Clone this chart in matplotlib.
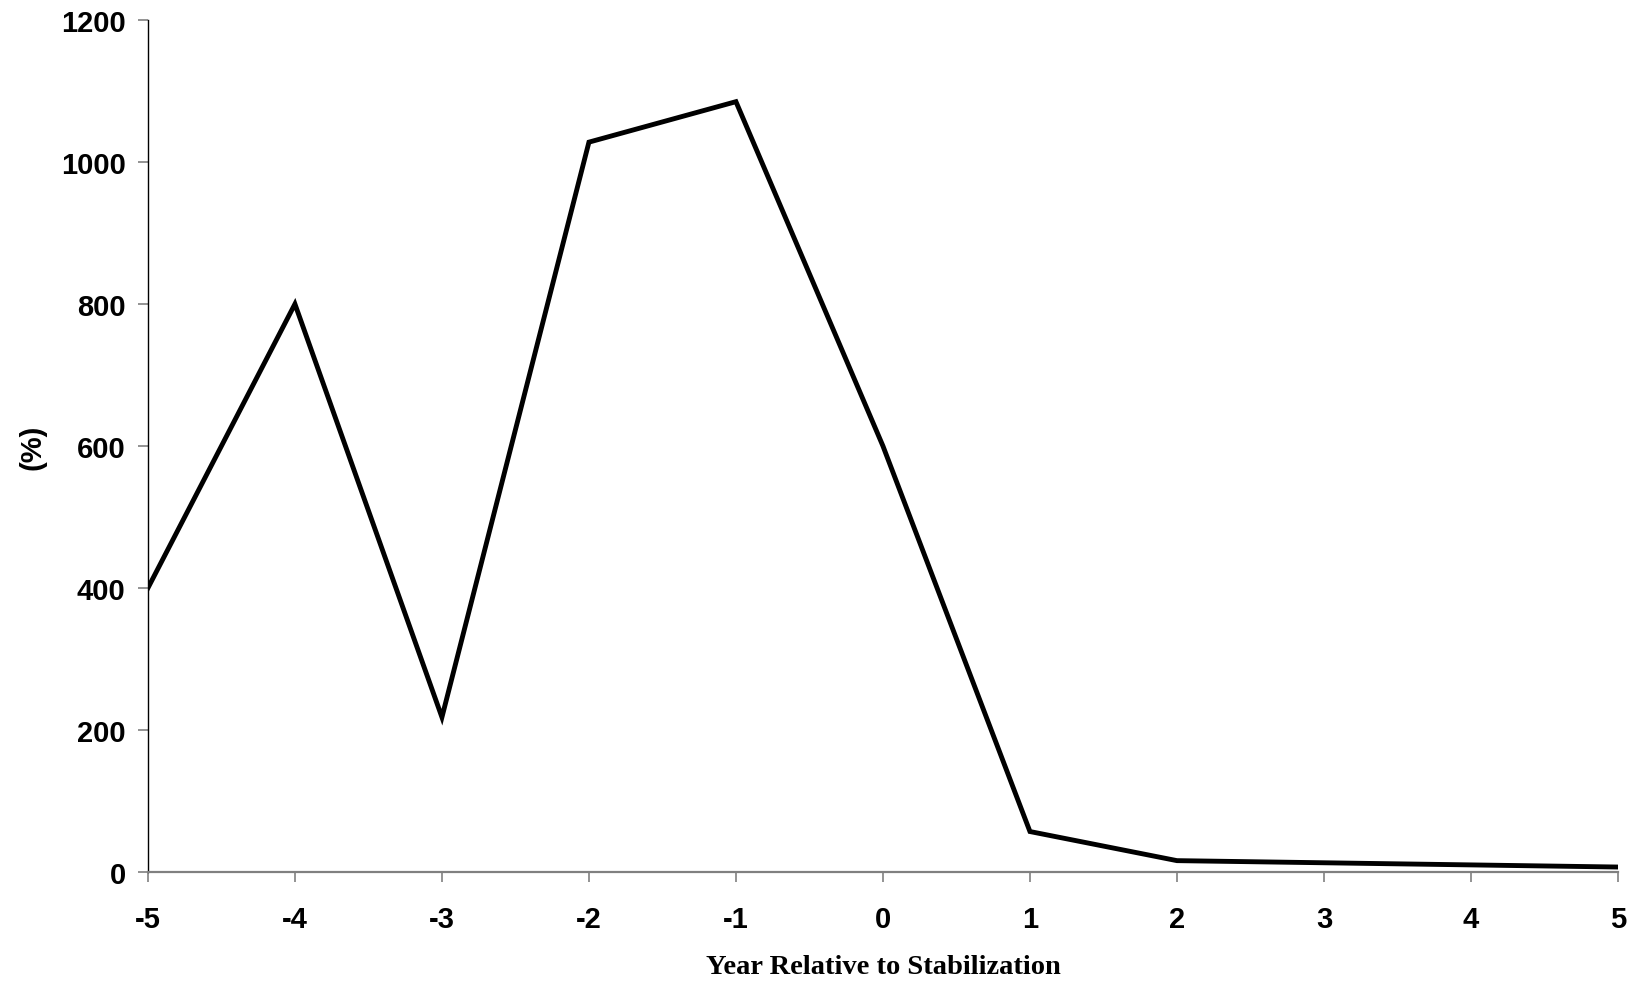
import matplotlib
matplotlib.use('Agg')
import matplotlib.pyplot as plt

# year relative to stabilization vs. percent
years = [-5, -4, -3, -2, -1, 0, 1, 2, 3, 4, 5]
pct = [400, 800, 218, 1028, 1085, 600, 57, 16, 13, 10, 7]
y_ticks = [0, 200, 400, 600, 800, 1000, 1200]


def main():
    plt.rcParams['axes.unicode_minus'] = False

    fig = plt.figure(figsize=(16.31, 9.87), dpi=100)
    ax = fig.add_axes([0.0907, 0.1155, 0.9013, 0.8632])

    ax.plot(years, pct, color='black', linewidth=3.5, solid_joinstyle='miter')

    ax.set_xlim(-5, 5)
    ax.set_ylim(0, 1200)
    ax.set_xticks(years)
    ax.set_yticks(y_ticks)

    for side in ['top', 'right']:
        ax.spines[side].set_visible(False)
    ax.spines['left'].set_color('black')
    ax.spines['left'].set_linewidth(1.0)
    ax.spines['bottom'].set_color('#808080')
    ax.spines['bottom'].set_linewidth(1.6)

    ax.tick_params(axis='both', direction='out', length=7, width=1.2,
                   color='#808080', labelsize=21)
    ax.tick_params(axis='x', pad=17)
    ax.tick_params(axis='y', pad=9)
    for lab in ax.get_xticklabels() + ax.get_yticklabels():
        lab.set_fontfamily('Liberation Sans')
        lab.set_fontweight('bold')

    ax.set_xlabel('Year Relative to Stabilization', fontfamily='Liberation Serif',
                  fontweight='bold', fontsize=20.5, labelpad=15)
    ax.set_ylabel('(%)', fontfamily='Liberation Sans', fontweight='bold',
                  fontsize=21, labelpad=10)

    fig.savefig('out.png', dpi=100)


if __name__ == '__main__':
    main()
